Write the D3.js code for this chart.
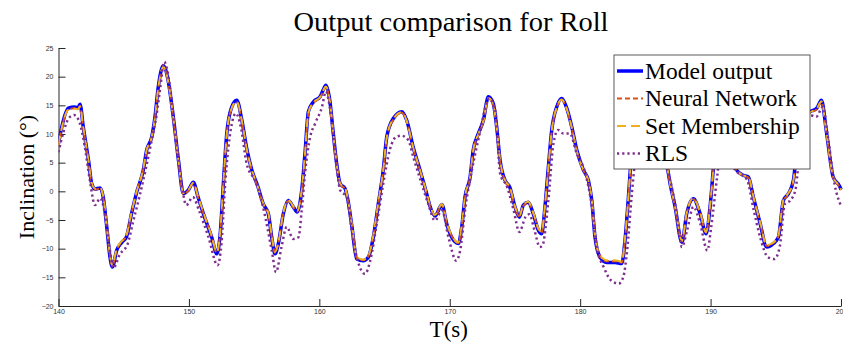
<!DOCTYPE html>
<html>
<head>
<meta charset="utf-8">
<script src="https://cdn.jsdelivr.net/npm/d3@7"></script>
<style>
  body { margin: 0; background: #fff; }
  svg { display: block; }
</style>
</head>
<body>
<div id="chart"></div>
<script>
// time grid shared by the three close series (seconds)
const time = [140.0, 140.25, 140.75, 141.25, 141.5, 141.65, 141.9, 142.3, 142.55, 142.8, 143.2, 143.43, 143.7, 143.95, 144.13, 144.46, 144.85, 145.2, 145.6, 146.0, 146.5, 146.76, 147.15, 147.4, 147.65, 148.04, 148.4, 148.8, 149.2, 149.57, 149.95, 150.34, 150.7, 151.2, 151.75, 152.13, 152.4, 152.64, 152.9, 153.28, 153.67, 154.05, 154.43, 154.8, 155.3, 155.7, 156.09, 156.35, 156.6, 156.86, 157.24, 157.62, 158.0, 158.3, 158.65, 158.9, 159.16, 159.54, 160.05, 160.3, 160.5, 160.8, 161.07, 161.33, 161.6, 161.97, 162.2, 162.5, 162.87, 163.37, 163.76, 164.14, 164.52, 164.9, 165.17, 165.67, 166.32, 166.7, 167.2, 167.72, 168.23, 168.5, 168.87, 169.4, 169.77, 170.15, 170.66, 170.92, 171.17, 171.56, 171.8, 172.2, 172.58, 172.96, 173.34, 173.6, 173.86, 174.24, 174.6, 175.0, 175.34, 175.64, 176.03, 176.4, 176.8, 177.05, 177.3, 177.56, 177.82, 178.2, 178.59, 178.97, 179.36, 179.74, 180.25, 180.63, 180.89, 181.14, 181.53, 182.04, 182.68, 183.19, 183.44, 183.7, 183.96, 184.3, 184.8, 185.4, 186.0, 186.64, 186.9, 187.28, 187.8, 188.17, 188.68, 189.2, 189.66, 189.96, 190.27, 190.6, 190.9, 191.4, 192.0, 192.5, 192.9, 193.28, 193.8, 194.3, 194.82, 195.2, 195.58, 195.97, 196.35, 196.6, 196.99, 197.63, 198.14, 198.5, 198.9, 199.4, 199.93, 200.0]

const modelOut = [8.3, 11.2, 14.5, 14.7, 14.6, 15.2, 11.2, 5.4, 1.3, 0.4, 0.6, -1.0, -6.2, -11.5, -13.2, -10.3, -8.9, -8.0, -3.9, -0.1, 3.7, 7.2, 9.5, 13, 18.2, 21.9, 19.4, 13, 5.4, -0.4, 0.2, 1.6, -1.0, -4.5, -8.0, -10.9, -7.4, 1.3, 10, 14.7, 15.9, 12.5, 7.5, 3.9, 0.75, -2.2, -3.9, -8.0, -10.9, -9.1, -3.9, -1.6, -2.7, -3.6, 0.2, 6.6, 13.9, 15.6, 16.5, 17.7, 18.5, 15.9, 10.1, 4.8, 1.3, 0.5, -1.6, -6.2, -11.8, -12.1, -11.5, -8.0, -2.2, 3.7, 9.5, 12.7, 13.9, 12.4, 7.7, 3.7, -0.4, -2.7, -4.3, -2.3, -5.7, -8.0, -9.1, -6.2, -1.0, 2.5, 7.2, 10.1, 12.4, 16.5, 15.3, 11.2, 5.4, 1.9, 0.75, -2.7, -4.5, -2.4, -1.9, -3.9, -6.8, -7.4, -2.7, 4.2, 10.7, 14.7, 16.2, 14.5, 11.2, 7.2, 3.7, 1.9, -1.6, -8.0, -11.5, -12.4, -12.4, -12.6, -8.5, -1.0, 7.2, 13, 15.5, 14, 10, 4.8, 1.3, -2.7, -8.9, -3.9, -1.3, -3.9, -7.4, -2.7, 5.4, 11, 12, 7, 3.7, 2.8, 2.5, -1.0, -5.6, -9.7, -9.1, -8.0, -1.6, -0.4, 1.9, 7.2, 12.4, 13.9, 14.5, 15.9, 10.1, 2.5, 0.75, 0.3]

const neuralNet = [8.0, 11.0, 14.3, 14.5, 14.4, 14.9, 11.0, 5.2, 1.2, 0.3, 0.5, -1.1, -6.0, -11.3, -13.0, -10.2, -8.8, -7.8, -3.8, 0.0, 3.8, 7.1, 9.4, 12.8, 18.0, 21.6, 19.2, 12.8, 5.2, -0.5, 0.1, 1.4, -1.1, -4.4, -7.9, -10.7, -7.2, 1.2, 9.8, 14.5, 15.6, 12.3, 7.3, 3.8, 0.6, -2.3, -4.0, -7.9, -10.7, -9.0, -3.8, -1.7, -2.8, -3.5, 0.1, 6.4, 13.6, 15.4, 16.3, 17.5, 18.2, 15.6, 9.9, 4.6, 1.2, 0.4, -1.7, -6.1, -11.6, -12.0, -11.3, -7.8, -2.1, 3.6, 9.3, 12.5, 13.7, 12.2, 7.5, 3.6, -0.5, -2.8, -4.2, -2.4, -5.6, -7.8, -9.0, -6.1, -1.1, 2.4, 7.0, 9.9, 12.2, 16.2, 15.0, 11.0, 5.3, 1.8, 0.6, -2.8, -4.4, -2.5, -2.0, -3.8, -6.6, -7.2, -2.6, 4.0, 10.5, 14.6, 15.9, 14.3, 11.0, 7.0, 3.6, 1.8, -1.7, -7.8, -11.3, -12.2, -12.2, -12.4, -8.3, -1.1, 7.0, 12.8, 15.2, 13.8, 9.8, 4.6, 1.2, -2.8, -8.7, -3.8, -1.4, -3.8, -7.2, -2.6, 5.2, 10.8, 11.8, 6.8, 3.6, 2.7, 2.4, -1.1, -5.5, -9.5, -9.0, -7.8, -1.7, -0.5, 1.8, 7.0, 12.2, 13.7, 14.3, 15.6, 9.9, 2.4, 0.6, 0.2]

const setMember = [8.1, 11.0, 14.2, 14.4, 14.3, 14.8, 11.1, 5.3, 1.4, 0.5, 0.6, -0.9, -6.1, -11.2, -12.9, -10.0, -8.7, -7.7, -3.7, 0.0, 3.9, 7.2, 9.5, 12.9, 18.0, 21.7, 19.3, 12.9, 5.3, -0.3, 0.2, 1.5, -0.9, -4.3, -7.8, -10.6, -7.1, 1.3, 9.9, 14.5, 15.7, 12.4, 7.4, 3.9, 0.7, -2.1, -3.8, -7.8, -10.6, -8.9, -3.7, -1.5, -2.6, -3.4, 0.2, 6.5, 13.7, 15.5, 16.4, 17.6, 18.3, 15.7, 10.0, 4.7, 1.3, 0.6, -1.5, -6.0, -11.5, -11.9, -11.2, -7.7, -2.0, 3.7, 9.4, 12.6, 13.8, 12.3, 7.6, 3.7, -0.3, -2.6, -4.1, -2.2, -5.5, -7.7, -8.9, -6.0, -0.9, 2.5, 7.1, 10.0, 12.3, 16.3, 15.1, 11.1, 5.4, 1.9, 0.8, -2.6, -4.3, -2.3, -1.8, -3.7, -6.5, -7.1, -2.5, 4.1, 10.6, 14.6, 16.0, 14.4, 11.1, 7.1, 3.7, 1.9, -1.5, -7.7, -11.2, -12.0, -12.0, -12.3, -8.2, -0.9, 7.1, 12.9, 15.3, 13.9, 9.9, 4.7, 1.3, -2.6, -8.6, -3.7, -1.2, -3.7, -7.1, -2.5, 5.3, 10.9, 11.9, 6.9, 3.7, 2.8, 2.5, -0.9, -5.4, -9.4, -8.9, -7.7, -1.5, -0.3, 1.9, 7.1, 12.3, 13.8, 14.4, 15.7, 10.0, 2.5, 0.7, 0.3]

// RLS is read on its own grid (lags and overshoots the others)
const rlsTime = [140.0, 140.4, 140.8, 141.2, 141.6, 142.0, 142.4, 142.8, 143.2, 143.6, 143.9, 144.2, 144.7, 145.3, 145.7, 146.2, 146.7, 147.2, 147.5, 147.8, 148.1, 148.5, 148.9, 149.4, 149.8, 150.3, 150.8, 151.5, 152.2, 152.5, 152.8, 153.1, 153.6, 154.0, 154.43, 155.2, 155.8, 156.35, 156.68, 157.1, 157.5, 158.0, 158.4, 158.65, 158.9, 159.3, 159.67, 160.2, 160.5, 160.8, 161.2, 161.6, 162.1, 162.6, 163.1, 163.5, 163.9, 164.4, 164.9, 165.4, 165.9, 166.3, 166.83, 167.2, 167.85, 168.35, 168.87, 169.4, 169.9, 170.5, 170.8, 171.2, 171.7, 172.3, 173.0, 173.5, 173.86, 174.4, 174.9, 175.34, 175.8, 176.1, 176.5, 176.9, 177.1, 177.56, 177.95, 178.3, 178.7, 179.2, 179.74, 180.4, 180.9, 181.27, 181.8, 182.4, 182.95, 183.3, 183.6, 183.96, 184.4, 184.9, 185.5, 186.1, 186.7, 187.1, 187.5, 187.8, 188.2, 188.68, 189.2, 189.75, 190.05, 190.5, 190.9, 191.3, 191.8, 192.8, 193.3, 193.8, 194.4, 194.9, 195.3, 195.7, 196.1, 196.5, 197.0, 197.6, 198.1, 198.6, 199.0, 199.5, 200.0]

const rls = [6.8, 10.5, 12.8, 13.3, 12.1, 8, 2, -2.4, -1.2, -4.5, -9.5, -13.4, -11, -9.2, -5.5, -1, 4, 9.5, 13, 18, 22.6, 19, 11, 2, -2.4, -1.0, -3.5, -8, -12.9, -9, 2, 9, 13.6, 11, 4.8, 1.3, -3.9, -10.3, -14.1, -9.7, -6.2, -8.3, -8, -3.3, 3.1, 9.5, 11.8, 14.7, 17.4, 14.7, 7.2, 0.2, -1, -8.6, -13.2, -14.4, -12.1, -5.7, 1.3, 7.2, 9.5, 9.7, 8.9, 6, 1.3, -2.2, -5.1, -3.3, -8, -12.1, -10.3, -2.8, 3.7, 10.1, 16.2, 14, 3.1, 0.75, -3.3, -7.1, -4.5, -4, -6.8, -9.7, -9.5, -1.6, 8.3, 10.7, 10.1, 10.1, 6.6, 3.1, -2.7, -9.7, -13.2, -15.6, -16.1, -15, -10.3, -0.5, 9, 13, 12, 8, 3.5, 0, -5.6, -9.7, -6.8, -2.7, -5.6, -10.3, -6.2, 2.5, 9, 8, 4, 2, -3.2, -8, -11.5, -11.8, -9.7, -2.2, -1.6, 0.2, 10.7, 13.3, 13, 14.7, 9.5, 1.3, -2.5]

const xTicks = [140, 150, 160, 170, 180, 190, 200]
const yTicks = [-20, -15, -10, -5, 0, 5, 10, 15, 20, 25]

const seriesNames = ["Model output", "Neural Network", "Set Membership", "RLS"]

// layout
const W = 843, H = 347
const margin = { top: 48, right: 2, bottom: 41, left: 58.5 }
const width = W - margin.left - margin.right
const height = H - margin.top - margin.bottom

const svg = d3.select("#chart").append("svg")
  .attr("width", W)
  .attr("height", H)

const g = svg.append("g")
  .attr("transform", "translate(" + margin.left + "," + margin.top + ")")

const x = d3.scaleLinear().domain([140, 200]).range([0, width])
const y = d3.scaleLinear().domain([-20, 25]).range([height, 0])

g.append("clipPath").attr("id", "plot-clip")
  .append("rect")
  .attr("x", 0).attr("y", -2)
  .attr("width", width + 2).attr("height", height + 2)

// axes, MATLAB style: ticks inside, no box
const tickFont = "'Liberation Sans', Arial, sans-serif"
const axisColor = "#262626"

const xAxis = g.append("g")
  .attr("transform", "translate(0," + height + ")")
  .call(d3.axisBottom(x).tickValues(xTicks).tickSizeInner(-7).tickSizeOuter(0).tickPadding(4))
const yAxis = g.append("g")
  .call(d3.axisLeft(y).tickValues(yTicks).tickSizeInner(-7).tickSizeOuter(0).tickPadding(5))

;[xAxis, yAxis].forEach(a => {
  a.select(".domain").attr("stroke", axisColor).attr("stroke-width", 1)
  a.selectAll(".tick line").attr("stroke", axisColor)
  a.selectAll(".tick text")
    .attr("fill", "#333")
    .style("font-family", tickFont)
    .style("font-size", "7px")
})
xAxis.selectAll(".tick text").attr("dy", "0.5em")

// series
const lines = [
  { vals: modelOut, t: time, color: "#0000ff", w: 3.5, dash: null },
  { vals: neuralNet, t: time, color: "#D95319", w: 2, dash: "5,3" },
  { vals: setMember, t: time, color: "#EDB120", w: 2, dash: "9,5" },
  { vals: rls, t: rlsTime, color: "#7E2F8E", w: 2.5, dash: "2.2,3" }
]

const lineGen = d3.line()
  .x(d => x(d[0]))
  .y(d => y(d[1]))
  .curve(d3.curveMonotoneX)

const plot = g.append("g").attr("clip-path", "url(#plot-clip)")
lines.forEach(s => {
  plot.append("path")
    .datum(s.t.map((t, i) => [t, s.vals[i]]))
    .attr("fill", "none")
    .attr("stroke", s.color)
    .attr("stroke-width", s.w)
    .attr("stroke-dasharray", s.dash)
    .attr("stroke-linejoin", "round")
    .attr("d", lineGen)
})

// titles
const serif = "'Liberation Serif', 'DejaVu Serif', serif"
svg.append("text")
  .attr("x", 451).attr("y", 31)
  .attr("text-anchor", "middle")
  .attr("textLength", 315)
  .attr("lengthAdjust", "spacingAndGlyphs")
  .style("font-family", serif)
  .style("font-size", "27px")
  .text("Output comparison for Roll")

svg.append("text")
  .attr("x", margin.left + width / 2 - 1).attr("y", 337)
  .attr("text-anchor", "middle")
  .style("font-family", serif)
  .style("font-size", "23px")
  .text("T(s)")

svg.append("text")
  .attr("transform", "translate(34," + (margin.top + height / 2) + ") rotate(-90)")
  .attr("text-anchor", "middle")
  .style("font-family", serif)
  .style("font-size", "22px")
  .text("Inclination (°)")

// legend
const leg = svg.append("g").attr("transform", "translate(614,55)")
leg.append("rect")
  .attr("width", 196).attr("height", 114)
  .attr("fill", "#fff")
  .attr("stroke", "#333")
  .attr("stroke-width", 0.8)

seriesNames.forEach((name, i) => {
  const s = lines[i]
  const ly = 16 + i * 27.5
  leg.append("line")
    .attr("x1", 3).attr("x2", 29)
    .attr("y1", ly).attr("y2", ly)
    .attr("stroke", s.color)
    .attr("stroke-width", s.w)
    .attr("stroke-dasharray", s.dash)
  leg.append("text")
    .attr("x", 31).attr("y", ly + 7.5)
    .style("font-family", serif)
    .style("font-size", "23.5px")
    .text(name)
})
</script>
</body>
</html>
